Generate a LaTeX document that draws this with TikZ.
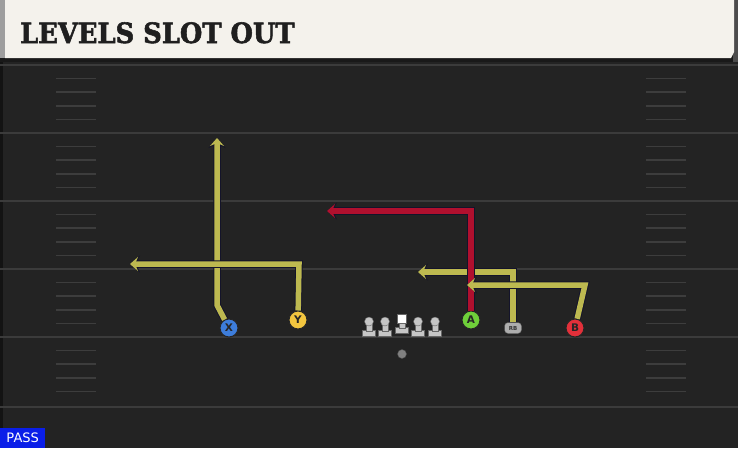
\documentclass[tikz,border=0pt]{standalone}
\usepackage{fontspec}
\setsansfont{DejaVu Sans}
\newfontfamily\titlefont{DejaVu Serif}[FakeBold=2]
\usetikzlibrary{arrows.meta}
\definecolor{fieldbg}{HTML}{232323}
\definecolor{yardline}{HTML}{3B3B3B}
\definecolor{hashc}{HTML}{3D3D3D}
\definecolor{headerc}{HTML}{F4F2EC}
\definecolor{olive}{HTML}{BDB950}
\definecolor{routered}{HTML}{B0102E}
\definecolor{outl}{HTML}{14142A}
\definecolor{xblue}{HTML}{3D7DDB}
\definecolor{yyellow}{HTML}{F3C63F}
\definecolor{agreen}{HTML}{6FCF3A}
\definecolor{bred}{HTML}{E2303A}
\definecolor{passblue}{HTML}{0A1EE8}
\definecolor{olgrey}{HTML}{C6C6C6}
\tikzset{
  player/.style={circle, draw=black!85, line width=1pt, minimum size=18pt, inner sep=0pt,
    font=\sffamily\bfseries\fontsize{10.5}{10.5}\selectfont, text=black!85},
  routeout/.style={outl, line width=7.5pt, line join=miter, -{Stealth[length=10pt,width=17pt,inset=4pt]}},
  route/.style={line width=5.5pt, line join=miter, -{Stealth[length=8pt,width=14pt,inset=3pt]}},
  yard/.style={yardline, line width=2pt},
  hashm/.style={hashc, line width=1.6pt},
  lineman/.style={fill=olgrey, draw=black!60, line width=0.4pt},
}
\begin{document}
\begin{tikzpicture}[x=1pt,y=-1pt]
\useasboundingbox (0,0) rectangle (738,448);
% field
\fill[fieldbg] (0,0) rectangle (738,448);
\fill[black!45!fieldbg] (0,58) rectangle (3,448);
% yard lines
\foreach \y in {65,133,201,269,337,407} \draw[yard] (0,\y) -- (738,\y);
% hash marks
\foreach \b in {65,133,201,269,337}
  \foreach \k in {1,2,3,4} {
    \draw[hashm] (56,\b+13.6*\k) -- (96,\b+13.6*\k);
    \draw[hashm] (646,\b+13.6*\k) -- (686,\b+13.6*\k);
  }
% header
\fill[black!90] (0,56) rectangle (738,62);
\fill[black!70] (733,0) rectangle (738,62);
\fill[headerc] (5,0) -- (734,0) -- (734,52) -- (731,58) -- (5,58) -- cycle;
\fill[black!38] (0,0) rectangle (5,58);
\node[anchor=base west, inner sep=0pt, font=\titlefont\bfseries\fontsize{28}{28}\selectfont, text=black!88, xscale=0.92] (title) at (20,43) {LEVELS SLOT OUT};
% PASS label
\node[anchor=south west, fill=passblue, text=white, inner xsep=4pt, inner ysep=2pt,
  minimum height=20pt, minimum width=45pt, font=\sffamily\fontsize{13}{13}\selectfont] (pass) at (0,448) {PASS};
% players
\node[player, fill=xblue] (X) at (229,328) {X};
\node[player, fill=yyellow] (Y) at (298,320) {Y};
\node[player, fill=agreen] (A) at (471,320) {A};
\node[player, fill=bred] (B) at (575,328) {B};
\node[draw=black!70, fill=black!32, rounded corners=3.5pt, minimum width=17pt, minimum height=11pt, inner sep=0pt,
  font=\sffamily\bfseries\fontsize{5.5}{5.5}\selectfont, text=black!80] (RB) at (513,328) {RB};
\node[circle, fill=black!50, draw=black!70, line width=0.4pt, minimum size=9pt, inner sep=0pt] (QB) at (402,354) {};
% offensive line
\foreach \x in {369,385,418,435} {
  \fill[lineman] (\x-6.5,330) rectangle (\x+6.5,336);
  \fill[lineman] (\x-3,322) rectangle (\x+3,331);
  \fill[lineman] (\x,321.5) circle (4.5);
}
\fill[lineman] (402-6.5,327) rectangle (402+6.5,333);
\fill[lineman] (402-3,320) rectangle (402+3,328);
\fill[white, draw=black!60, line width=0.4pt] (397.5,314) rectangle (406.5,323);
\node[inner sep=0pt] (C) at (402,322) {};
% route points
\coordinate (xt) at (217,305);
\coordinate (xe) at (217,138);
\coordinate (yt) at (299,264);
\coordinate (ye) at (130,264);
\coordinate (at) at (471,211);
\coordinate (ae) at (327,211);
\coordinate (rt) at (513,272);
\coordinate (re) at (418,272);
\coordinate (bt) at (585,285);
\coordinate (be) at (467,285);
% routes
\draw[routeout] (X) -- (xt) -- (xe);
\draw[route, olive] (X) -- (xt) -- (xe);
\draw[routeout] (Y) -- (yt) -- (ye);
\draw[route, olive] (Y) -- (yt) -- (ye);
\draw[routeout] (RB) -- (rt) -- (re);
\draw[route, olive] (RB) -- (rt) -- (re);
\draw[routeout] (A) -- (at) -- (ae);
\draw[route, routered] (A) -- (at) -- (ae);
\draw[routeout] (B) -- (bt) -- (be);
\draw[route, olive] (B) -- (bt) -- (be);
\end{tikzpicture}
\end{document}
